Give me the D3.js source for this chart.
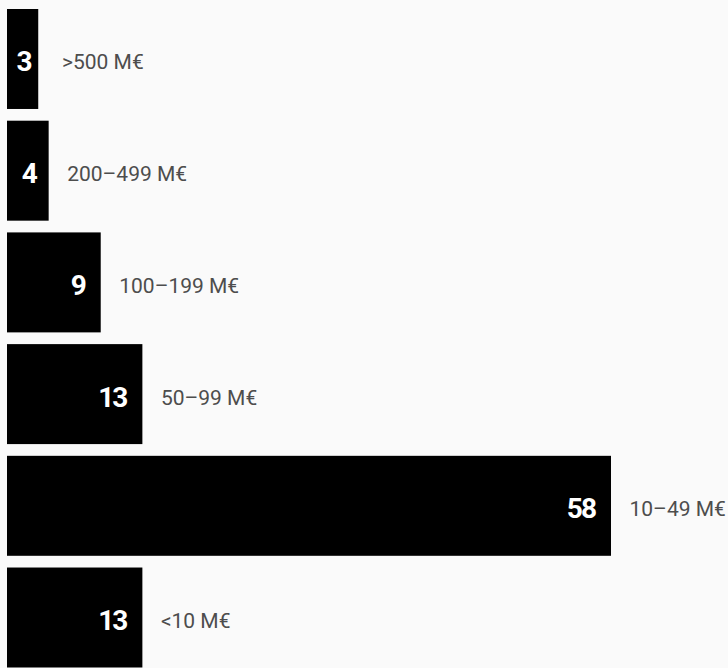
<!DOCTYPE html>
<html>
<head>
<meta charset="utf-8">
<script src="https://cdn.jsdelivr.net/npm/d3@7"></script>
<style>
  html, body { margin: 0; padding: 0; background: #fafafa; }
  svg { display: block; }
</style>
</head>
<body>
<svg id="chart" width="728" height="668"></svg>
<script>
const categories = [">500 M€", "200–499 M€", "100–199 M€", "50–99 M€", "10–49 M€", "<10 M€"];
const values = [3, 4, 9, 13, 58, 13];

const W = 728, H = 668;
const svg = d3.select("#chart");
svg.append("rect").attr("width", W).attr("height", H).attr("fill", "#fafafa");

const x = d3.scaleLinear().domain([0, 58]).range([7, 611]);
const y = d3.scaleBand().domain(categories).range([9, 667.5]).paddingInner(0.105).paddingOuter(0);

const data = categories.map((c, i) => ({ cat: c, val: values[i] }));

const g = svg.append("g");
g.selectAll("rect.bar").data(data).join("rect")
  .attr("class", "bar")
  .attr("x", x(0))
  .attr("y", d => y(d.cat))
  .attr("width", d => x(d.val) - x(0))
  .attr("height", y.bandwidth())
  .attr("fill", "#000");

g.selectAll("text.val").data(data).join("text")
  .attr("class", "val")
  .attr("x", d => {
    const w = x(d.val) - x(0);
    return w < 60 ? x(0) + w / 2 + 1 : x(d.val) - 16;
  })
  .attr("text-anchor", d => (x(d.val) - x(0)) < 60 ? "middle" : "end")
  .attr("y", d => y(d.cat) + y.bandwidth() / 2 + 12.5)
  .attr("fill", "#fff")
  .style("font-family", "Roboto, 'Noto Sans', sans-serif")
  .style("font-weight", 700)
  .style("font-size", "28px")
  .style("letter-spacing", "-2px")
  .text(d => d.val);

g.selectAll("text.cat").data(data).join("text")
  .attr("class", "cat")
  .attr("x", d => Math.max(x(d.val) + 18.5, 62))
  .attr("y", d => y(d.cat) + y.bandwidth() / 2 + 10.5)
  .attr("fill", "#4d4d4d")
  .style("font-family", "Roboto, 'Noto Sans', sans-serif")
  .style("font-size", "21px")
  .text(d => d.cat);
</script>
</body>
</html>
